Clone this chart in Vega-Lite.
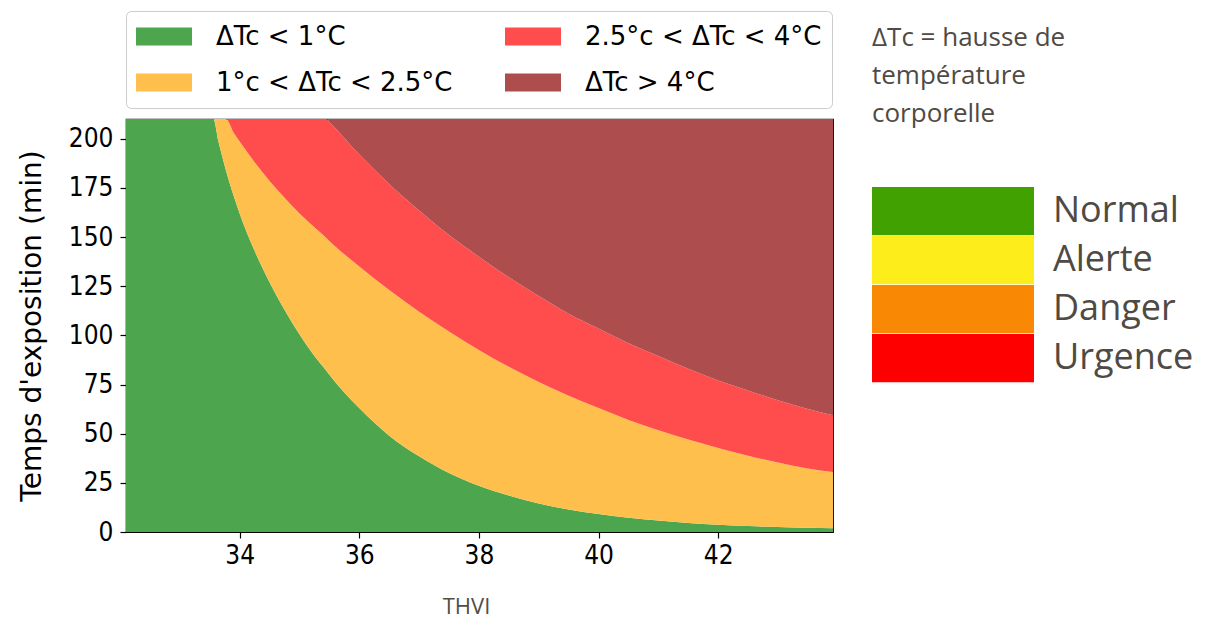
{
  "$schema": "https://vega.github.io/schema/vega-lite/v6.json",
  "width": 707,
  "height": 413,
  "autosize": {"type": "none"},
  "padding": {"left": 126, "top": 119, "right": 383, "bottom": 86},
  "background": "white",
  "config": {
    "view": {"stroke": "black", "strokeWidth": 1.2},
    "axis": {
      "grid": false,
      "domain": false,
      "tickColor": "black",
      "tickWidth": 1.2,
      "tickSize": 6,
      "labelColor": "black",
      "labelFont": "DejaVu Sans Condensed, DejaVu Sans",
      "labelFontSize": 26
    }
  },
  "data": {
    "values": [
      {"thvi": 32.1, "b1": 210, "b2": 210, "b3": 210},
      {"thvi": 33.56, "b1": 210, "b2": 210, "b3": 210},
      {"thvi": 33.65, "b1": 198, "b2": 210, "b3": 210},
      {"thvi": 33.77, "b1": 184, "b2": 210, "b3": 210},
      {"thvi": 33.9, "b1": 171, "b2": 203, "b3": 210},
      {"thvi": 34.0, "b1": 162, "b2": 198.5, "b3": 210},
      {"thvi": 34.25, "b1": 143, "b2": 188, "b3": 210},
      {"thvi": 34.5, "b1": 127, "b2": 178.5, "b3": 210},
      {"thvi": 34.75, "b1": 113, "b2": 170, "b3": 210},
      {"thvi": 35.0, "b1": 100.5, "b2": 162, "b3": 210},
      {"thvi": 35.25, "b1": 89.5, "b2": 155, "b3": 210},
      {"thvi": 35.45, "b1": 82, "b2": 149.5, "b3": 210},
      {"thvi": 35.5, "b1": 80, "b2": 148, "b3": 208.5},
      {"thvi": 36.0, "b1": 63, "b2": 135, "b3": 192},
      {"thvi": 36.5, "b1": 49, "b2": 123, "b3": 177},
      {"thvi": 37.0, "b1": 38.5, "b2": 112, "b3": 163.5},
      {"thvi": 37.5, "b1": 30, "b2": 102, "b3": 151},
      {"thvi": 38.0, "b1": 23.5, "b2": 92.6, "b3": 140},
      {"thvi": 38.5, "b1": 18.5, "b2": 84, "b3": 129.5},
      {"thvi": 39.0, "b1": 14.5, "b2": 76.3, "b3": 120},
      {"thvi": 39.5, "b1": 11.5, "b2": 69.3, "b3": 111},
      {"thvi": 40.0, "b1": 9.2, "b2": 63, "b3": 103.5},
      {"thvi": 40.5, "b1": 7.3, "b2": 57, "b3": 96},
      {"thvi": 41.0, "b1": 5.8, "b2": 51.8, "b3": 89.5},
      {"thvi": 41.5, "b1": 4.6, "b2": 47, "b3": 83},
      {"thvi": 42.0, "b1": 3.7, "b2": 42.7, "b3": 77},
      {"thvi": 42.5, "b1": 3.0, "b2": 38.8, "b3": 72},
      {"thvi": 43.0, "b1": 2.5, "b2": 35.3, "b3": 67},
      {"thvi": 43.5, "b1": 2.1, "b2": 32.3, "b3": 62.5},
      {"thvi": 43.92, "b1": 1.9, "b2": 30.5, "b3": 59.4}
    ]
  },
  "encoding": {
    "x": {
      "field": "thvi",
      "type": "quantitative",
      "scale": {"domain": [32.1, 43.92], "nice": false, "zero": false},
      "axis": {
        "values": [34, 36, 38, 40, 42],
        "labelPadding": 4,
        "title": "THVI",
        "titleFont": "Open Sans",
        "titleFontSize": 22,
        "titleFontWeight": "normal",
        "titleColor": "#514d47",
        "titleX": 340,
        "titleY": 74,
        "titleBaseline": "middle",
        "titleAlign": "center"
      }
    }
  },
  "layer": [
    {
      "mark": {"type": "area", "opacity": 1, "clip": true, "interpolate": "monotone"},
      "encoding": {
        "y": {
          "field": "b1",
          "type": "quantitative",
          "stack": null,
          "scale": {"domain": [0, 210], "nice": false},
          "axis": {
            "values": [0, 25, 50, 75, 100, 125, 150, 175, 200],
            "labelPadding": 7,
            "title": "Temps d'exposition (min)",
            "titleFont": "DejaVu Sans",
            "titleFontSize": 28,
            "titleFontWeight": "normal",
            "titleColor": "black",
            "titlePadding": 22
          }
        },
        "color": {
          "datum": "ΔTc < 1°C",
          "type": "nominal",
          "scale": {
            "domain": ["ΔTc < 1°C", "1°c < ΔTc < 2.5°C", "2.5°c < ΔTc < 4°C", "ΔTc > 4°C"],
            "range": ["#4da64d", "#ffbf4d", "#ff4d4d", "#ae4d4d"]
          },
          "legend": {
            "title": null,
            "orient": "none",
            "legendX": 0,
            "legendY": -108,
            "columns": 2,
            "columnPadding": 52,
            "rowPadding": 15,
            "clipHeight": 31,
            "padding": 10,
            "strokeColor": "#cccccc",
            "fillColor": "white",
            "cornerRadius": 5,
            "symbolType": "M-1,-0.32H1V0.32H-1Z",
            "symbolSize": 3136,
            "symbolStrokeWidth": 0,
            "symbolOpacity": 1,
            "labelOffset": 24,
            "labelFont": "DejaVu Sans",
            "labelFontSize": 26,
            "labelColor": "black",
            "labelLimit": 400
          }
        }
      }
    },
    {
      "mark": {"type": "area", "opacity": 1, "clip": true, "interpolate": "monotone"},
      "encoding": {
        "y": {"field": "b1", "type": "quantitative"},
        "y2": {"field": "b2"},
        "color": {"datum": "1°c < ΔTc < 2.5°C", "type": "nominal"}
      }
    },
    {
      "mark": {"type": "area", "opacity": 1, "clip": true, "interpolate": "monotone"},
      "encoding": {
        "y": {"field": "b2", "type": "quantitative"},
        "y2": {"field": "b3"},
        "color": {"datum": "2.5°c < ΔTc < 4°C", "type": "nominal"}
      }
    },
    {
      "mark": {"type": "area", "opacity": 1, "clip": true, "interpolate": "monotone"},
      "encoding": {
        "y": {"field": "b3", "type": "quantitative"},
        "y2": {"datum": 210},
        "color": {"datum": "ΔTc > 4°C", "type": "nominal"}
      }
    },
    {
      "data": {
        "values": [
          {"level": "Normal"},
          {"level": "Alerte"},
          {"level": "Danger"},
          {"level": "Urgence"}
        ]
      },
      "mark": {"type": "square", "opacity": 0, "filled": true},
      "encoding": {
        "x": {"datum": 38, "type": "quantitative"},
        "y": {"datum": 100, "type": "quantitative"},
        "fill": {
          "field": "level",
          "type": "nominal",
          "scale": {
            "domain": ["Normal", "Alerte", "Danger", "Urgence"],
            "range": ["#41a100", "#fdee1b", "#f98904", "#ff0000"]
          },
          "legend": {
            "title": ["ΔTc = hausse de", "température", "corporelle"],
            "titleFont": "Open Sans",
            "titleFontSize": 26,
            "titleFontWeight": "normal",
            "titleColor": "#4f4a44",
            "titleLineHeight": 38,
            "titlePadding": 60,
            "titleLimit": 400,
            "orient": "none",
            "legendX": 746,
            "legendY": -94,
            "padding": 0,
            "rowPadding": 0,
            "clipHeight": 48.5,
            "symbolType": "M-1,-0.3H1V0.3H-1Z",
            "symbolSize": 26244,
            "symbolStrokeWidth": 0,
            "symbolOpacity": 1,
            "labelOffset": 19,
            "labelFont": "Open Sans",
            "labelFontSize": 36,
            "labelColor": "#4f4a44",
            "labelLimit": 400
          }
        }
      }
    }
  ]
}
